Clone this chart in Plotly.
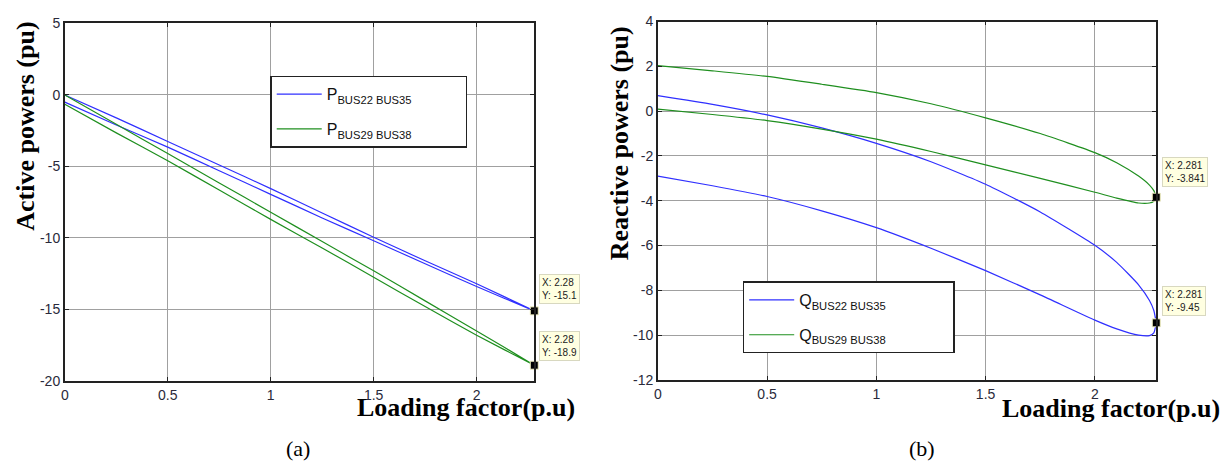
import plotly.graph_objects as go

# ---------------- data ----------------
# Active power (panel a): loop out along the upper branch, back along the lower one
x_p = [0, 0.25, 0.5, 0.75, 1.0, 1.25, 1.5, 1.75, 2.0, 2.28]
p22_35_upper = [0, -1.6, -3.25, -4.9, -6.55, -8.25, -9.95, -11.6, -13.2, -15.1]
p22_35_lower = [-0.5, -2.1, -3.65, -5.3, -6.95, -8.6, -10.2, -11.8, -13.4, -15.1]
p29_38_upper = [0, -2.05, -4.1, -6.15, -8.2, -10.25, -12.3, -14.4, -16.5, -18.9]
p29_38_lower = [-0.65, -2.65, -4.6, -6.65, -8.7, -10.7, -12.75, -14.8, -16.8, -18.9]

# Reactive power (panel b)
x_q = [0, 0.25, 0.5, 0.75, 1.0, 1.25, 1.5, 1.75, 2.0, 2.1, 2.2, 2.25, 2.27, 2.281]
q22_35_upper = [0.69, 0.3, -0.17, -0.75, -1.44, -2.26, -3.26, -4.5, -5.99, -6.75, -7.75, -8.45, -8.9, -9.45]
q22_35_lower = [-2.9, -3.33, -3.81, -4.45, -5.2, -6.12, -7.12, -8.2, -9.33, -9.72, -10.0, -10.02, -9.9, -9.45]
q29_38_upper = [2.03, 1.8, 1.55, 1.2, 0.83, 0.33, -0.3, -1.0, -1.85, -2.3, -2.9, -3.3, -3.55, -3.841]
q29_38_lower = [0.09, -0.15, -0.42, -0.8, -1.25, -1.8, -2.4, -3.0, -3.62, -3.88, -4.1, -4.1, -4.02, -3.841]

names_p = ["P<sub>BUS22 BUS35</sub>", "P<sub>BUS29 BUS38</sub>"]
names_q = ["Q<sub>BUS22 BUS35</sub>", "Q<sub>BUS29 BUS38</sub>"]

x_ticks = [0, 0.5, 1, 1.5, 2]
x_ticklabels = ["0", "0.5", "1", "1.5", "2"]
yp_ticks = [5, 0, -5, -10, -15, -20]
yp_ticklabels = ["5", "0", "-5", "-10", "-15", "-20"]
yq_ticks = [4, 2, 0, -2, -4, -6, -8, -10, -12]
yq_ticklabels = ["4", "2", "0", "-2", "-4", "-6", "-8", "-10", "-12"]

tips_p = [("2.28", "-15.1"), ("2.28", "-18.9")]
tips_q = [("2.281", "-3.841"), ("2.281", "-9.45")]

BLUE = "#3030ff"
GREEN = "#1f8f1f"

W, H = 1231, 473


def px_x(p):
    return p / W


def px_y(p):
    return 1 - p / H


fig = go.Figure()


def loop(xs, up, lo):
    return xs + xs[::-1], up + lo[::-1]


for (up, lo), name, col, lg, pad in [
    ((p22_35_upper, p22_35_lower), names_p[0], BLUE, "legend", 11),
    ((p29_38_upper, p29_38_lower), names_p[1], GREEN, "legend", 11),
]:
    xx, yy = loop(x_p, up, lo)
    fig.add_trace(go.Scatter(x=xx, y=yy, mode="lines", name=name + "&nbsp;" * pad, legend=lg,
                             legendgroup=name,
                             line=dict(color=col, width=1.2, shape="spline", smoothing=0.5),
                             xaxis="x", yaxis="y"))

for (up, lo), name, col, lg, pad in [
    ((q22_35_upper, q22_35_lower), names_q[0], BLUE, "legend2", 14),
    ((q29_38_upper, q29_38_lower), names_q[1], GREEN, "legend2", 14),
]:
    xx, yy = loop(x_q, up, lo)
    fig.add_trace(go.Scatter(x=xx, y=yy, mode="lines", name=name + "&nbsp;" * pad, legend=lg,
                             legendgroup=name,
                             line=dict(color=col, width=1.2, shape="spline", smoothing=0.5),
                             xaxis="x2", yaxis="y2"))

# data-tip markers
fig.add_trace(go.Scatter(x=[x_p[-1], x_p[-1]], y=[p22_35_upper[-1], p29_38_upper[-1]],
                         mode="markers", showlegend=False, cliponaxis=False,
                         marker=dict(symbol="square", size=8, color="black",
                                     line=dict(color="#f2f0c0", width=1)),
                         xaxis="x", yaxis="y"))
fig.add_trace(go.Scatter(x=[x_q[-1], x_q[-1]], y=[q29_38_upper[-1], q22_35_upper[-1]],
                         mode="markers", showlegend=False, cliponaxis=False,
                         marker=dict(symbol="square", size=8, color="black",
                                     line=dict(color="#f2f0c0", width=1)),
                         xaxis="x2", yaxis="y2"))

axis_common = dict(showgrid=True, gridcolor="#a0a0a0", gridwidth=1,
                   showline=True, linecolor="#222", linewidth=1.6, mirror="allticks",
                   ticks="inside", ticklen=4, tickcolor="#222",
                   tickfont=dict(family="Liberation Sans, Arial", size=14, color="#2a2a3a"),
                   zeroline=False)

legend_common = dict(xanchor="left", yanchor="top",
                     bordercolor="#222", borderwidth=1.6, bgcolor="white",
                     font=dict(family="Liberation Sans, Arial", size=16, color="#111"),
                     tracegroupgap=11, itemwidth=45)

fig.update_layout(
    width=W, height=H, margin=dict(l=0, r=0, t=0, b=0),
    paper_bgcolor="white", plot_bgcolor="white",
    xaxis=dict(domain=[px_x(61), px_x(532)], range=[0, 2.28], tickvals=x_ticks,
               ticktext=x_ticklabels, anchor="y", **axis_common),
    yaxis=dict(domain=[px_y(386), px_y(16)], range=[-20, 5], tickvals=yp_ticks,
               ticktext=yp_ticklabels, anchor="x", **axis_common),
    xaxis2=dict(domain=[px_x(656), px_x(1156)], range=[0, 2.281], tickvals=x_ticks,
                ticktext=x_ticklabels, anchor="y2", **axis_common),
    yaxis2=dict(domain=[px_y(385), px_y(14)], range=[-12, 4], tickvals=yq_ticks,
                ticktext=yq_ticklabels, anchor="x2", **axis_common),
    legend=dict(x=px_x(267), y=px_y(70), **legend_common),
    legend2=dict(x=px_x(741), y=px_y(283), **legend_common),
    showlegend=True,
)

serif_bold = dict(family="Liberation Serif, Times New Roman", size=26, color="black")
serif = dict(family="Liberation Serif, Times New Roman", size=22, color="black")


def text_ann(text, xp, yp, font, angle=0):
    return dict(text=text, x=px_x(xp), y=px_y(yp), xref="paper", yref="paper",
                xanchor="center", yanchor="middle", textangle=angle,
                showarrow=False, font=font)


ann = [
    text_ann("<b>Active powers (pu)</b>", 22, 122, serif_bold, -90),
    text_ann("<b>Reactive powers (pu)</b>", 617, 140, serif_bold, -90),
    text_ann("<b>Loading factor(p.u)</b>", 464, 414, serif_bold),
    text_ann("<b>Loading factor(p.u)</b>", 1111, 415, serif_bold),
    text_ann("(a)", 295, 456, serif),
    text_ann("(b)", 921, 456, serif),
]

tip_font = dict(family="Liberation Sans, Arial", size=10, color="#222")
for (tx, ty), ypx in zip(tips_p, [291, 350]):
    ann.append(dict(text=f"X: {tx}<br>Y: {ty}", x=px_x(537), y=px_y(ypx), xref="paper", yref="paper",
                    xanchor="left", yanchor="middle", align="left", showarrow=False,
                    bgcolor="#ffffe1", bordercolor="#d8d8c0", borderwidth=1, borderpad=2, font=tip_font))
for (tx, ty), ypx in zip(tips_q, [170, 303]):
    ann.append(dict(text=f"X: {tx}<br>Y: {ty}", x=px_x(1162), y=px_y(ypx), xref="paper", yref="paper",
                    xanchor="left", yanchor="middle", align="left", showarrow=False,
                    bgcolor="#ffffe1", bordercolor="#d8d8c0", borderwidth=1, borderpad=2, font=tip_font))
fig.update_layout(annotations=ann)

fig.write_html("out.html")
